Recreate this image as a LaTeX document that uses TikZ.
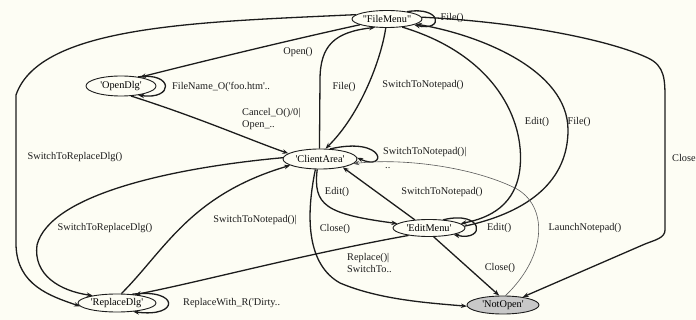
\documentclass[tikz,border=0pt]{standalone}
\usepackage{fontspec}
\setmainfont{Liberation Serif}
\usetikzlibrary{shapes.geometric,arrows.meta}
\definecolor{bg}{RGB}{253,253,244}
\definecolor{ink}{RGB}{28,28,28}
\definecolor{thin}{RGB}{90,90,90}
\definecolor{nofill}{RGB}{200,200,200}
\begin{document}
\begin{tikzpicture}[x=1pt,y=-1pt,
  st/.style={ellipse, draw=ink, line width=0.9pt, inner sep=0pt, minimum width=#1, minimum height=17pt, font=\fontsize{10.3}{12}\selectfont},
  tr/.style={draw=ink, line width=1.3pt, -{Stealth[length=6pt,width=4.5pt]}},
  thintr/.style={draw=thin, line width=0.6pt, -{Stealth[length=6pt,width=4.5pt]}},
  lb/.style={font=\fontsize{10.3}{12}\selectfont, inner sep=0pt, text=ink}]
\path[use as bounding box, fill=bg] (0,0) rectangle (696,320);

% states
\node[st=70pt] (FM) at (387,19) {\textquotedbl FileMenu\textquotedbl};
\node[st=70pt, minimum height=20pt] (OD) at (121,86) {\textquotesingle OpenDlg\textquotesingle};
\node[st=74pt, minimum height=20pt] (CA) at (320,159) {\textquotesingle ClientArea\textquotesingle};
\node[st=72pt] (EM) at (429,228) {\textquotesingle EditMenu\textquotesingle};
\node[st=78pt, minimum height=18pt] (RD) at (117,303) {\textquotesingle ReplaceDlg\textquotesingle};
\node[st=72pt, minimum height=18pt, fill=nofill] (NO) at (503,305) {\textquotesingle NotOpen\textquotesingle};

% FileMenu self loop
\draw[tr] (FM.20) .. controls (442,6) and (444,32) .. (FM.-12);
\node[lb] (l1) at (452,18) {File()};

% FileMenu -> OpenDlg
\draw[tr] (FM.192) .. controls (290,40) and (200,62) .. (OD.25);
\node[lb] (l2) at (298,52) {Open()};

% OpenDlg self loop
\draw[tr] (OD.28) .. controls (174,72) and (174,100) .. (OD.-28);
\node[lb, anchor=west] (l3) at (172,87) {FileName\_O(\textquotesingle foo.htm\textquotesingle ..};

% OpenDlg -> ClientArea
\draw[tr] (OD.-45) .. controls (200,118) and (250,140) .. (CA.170);
\node[lb, anchor=north west, align=left] (l4) at (242,108) {Cancel\_O()/0|\\Open\_..};

% FileMenu -> ReplaceDlg (outer)
\draw[tr] (FM.172) .. controls (200,22) and (40,25) .. (16,95) -- (16,245) .. controls (17,285) and (50,296) .. (RD.185);
\node[lb] (l5) at (75,157) {SwitchToReplaceDlg()};

% ClientArea -> FileMenu
\draw[tr] (CA.93) -- (320,80) .. controls (320,45) and (335,32) .. (FM.215);
\node[lb] (l6) at (344,87) {File()};

% FileMenu -> ClientArea
\draw[tr] (FM.262) .. controls (381,60) and (360,115) .. (CA.62);
\node[lb] (l7) at (423,85) {SwitchToNotepad()};

% FileMenu -> EditMenu
\draw[tr] (FM.-28) .. controls (495,55) and (525,120) .. (520,168) .. controls (516,205) and (490,218) .. (EM.8);
\node[lb] (l8) at (537,122) {Edit()};

% EditMenu -> FileMenu
\draw[tr] (EM.3) .. controls (530,212) and (568,180) .. (568,130) .. controls (568,70) and (480,35) .. (FM.-10);
\node[lb] (l9) at (579,122) {File()};

% FileMenu -> NotOpen
\draw[tr] (FM.3) .. controls (520,22) and (610,40) .. (648,58) .. controls (665,66) and (665,80) .. (665,100) -- (665,230) .. controls (665,238) and (655,240) .. (645,244) -- (NO.22);
\node[lb, anchor=west] (l10) at (672,158) {Close};

% ClientArea self loop
\draw[tr] (CA.45) .. controls (386,136) and (388,172) .. (CA.2);
\node[lb, anchor=west] (l11) at (383,152) {SwitchToNotepad()|};
\node[lb, anchor=west] (l11b) at (385,168) {..};

% NotOpen -> ClientArea (thin)
\draw[thintr] (NO.75) .. controls (548,255) and (548,205) .. (515,188) .. controls (470,166) and (400,158) .. (CA.-8);
\node[lb] (l12) at (585,228) {LaunchNotepad()};

% ClientArea -> EditMenu
\draw[tr] (CA.255) .. controls (313,205) and (325,214) .. (EM.172);
\node[lb] (l13) at (337,192) {Edit()};

% EditMenu -> ClientArea
\draw[tr] (EM.150) -- (CA.-20);
\node[lb] (l14) at (442,192) {SwitchToNotepad()};

% ClientArea -> NotOpen
\draw[tr] (CA.246) .. controls (305,220) and (308,265) .. (340,283) .. controls (380,300) and (430,303) .. (NO.182);
\node[lb] (l15) at (335,229) {Close()};

% EditMenu -> ReplaceDlg
\draw[tr] (EM.200) .. controls (300,255) and (200,282) .. (RD.25);
\node[lb, anchor=north west, align=left] (l16) at (347,253) {Replace()|\\SwitchTo..};

% EditMenu -> NotOpen
\draw[tr] (EM.-62) -- (NO.112);
\node[lb] (l17) at (500,268) {Close()};

% EditMenu self loop
\draw[tr] (EM.30) .. controls (484,210) and (486,242) .. (EM.-15);
\node[lb, anchor=west] (l18) at (487,228) {Edit()};

% ClientArea -> ReplaceDlg
\draw[tr] (CA.178) .. controls (170,168) and (50,195) .. (37,245) .. controls (33,275) and (60,291) .. (RD.163);
\node[lb] (l19) at (105,228) {SwitchToReplaceDlg()};

% ReplaceDlg -> ClientArea
\draw[tr] (RD.65) .. controls (165,250) and (190,195) .. (CA.192);
\node[lb] (l20) at (255,220) {SwitchToNotepad()|};

% ReplaceDlg self loop
\draw[tr] (RD.30) .. controls (180,288) and (180,318) .. (RD.-28);
\node[lb, anchor=west] (l21) at (183,303) {ReplaceWith\_R(\textquotesingle Dirty..};
\end{tikzpicture}
\end{document}
